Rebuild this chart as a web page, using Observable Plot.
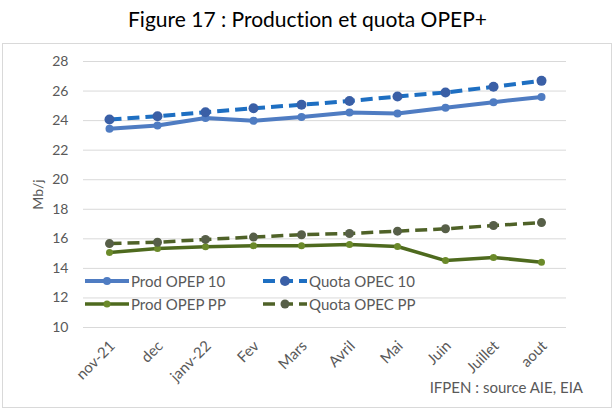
<!DOCTYPE html>
<html><head><meta charset="utf-8">
<script src="https://cdn.jsdelivr.net/npm/d3@7"></script>
<script src="https://cdn.jsdelivr.net/npm/@observablehq/plot@0.6"></script>
<style>
body{margin:0;background:#fff;font-family:Lato,"Open Sans",sans-serif;font-variant-ligatures:none;}
#wrap{position:relative;width:615px;height:412px;overflow:hidden;background:#fff;}
#title{position:absolute;top:6px;left:0;width:615px;text-align:center;font-size:21px;color:#000;line-height:26px;}
#frame{position:absolute;left:2px;top:43px;width:610px;height:365px;border:1px solid #d9d9d9;box-sizing:border-box;}
#chart{position:absolute;left:0;top:43px;}
#chart svg text{font-variant-ligatures:none;}
.leg{position:absolute;display:flex;align-items:center;font-size:15px;color:#595959;white-space:nowrap;}
.leg svg{margin-right:2px;}
#caption{position:absolute;right:32px;top:378px;font-size:15px;color:#595959;}
</style></head>
<body>
<div id="wrap">
  <div id="title">Figure 17 : Production et quota OPEP+</div>
  <div id="frame"></div>
  <div id="chart"></div>
  <div id="legend"></div>
  <div id="caption">IFPEN : source AIE, EIA</div>
</div>
<script>
const months = ["nov-21","dec","janv-22","Fev","Mars","Avril","Mai","Juin","Juillet","aout"];
const prodOpep10 = [23.45, 23.67, 24.17, 23.99, 24.25, 24.55, 24.48, 24.87, 25.25, 25.6];
const quotaOpec10 = [24.07, 24.3, 24.57, 24.84, 25.07, 25.33, 25.63, 25.9, 26.29, 26.69];
const prodOpepPP = [15.07, 15.35, 15.47, 15.54, 15.54, 15.62, 15.48, 14.53, 14.74, 14.42];
const quotaOpecPP = [15.68, 15.77, 15.96, 16.12, 16.28, 16.36, 16.52, 16.68, 16.9, 17.1];
const yTicks = [10, 12, 14, 16, 18, 20, 22, 24, 26, 28];
const seriesNames = ["Prod OPEP 10", "Quota OPEC 10", "Prod OPEP PP", "Quota OPEC PP"];

const styles = [
  {line: "#4f7cc2", dot: "#4f7cc2", width: 4, dash: null, r: 4},
  {line: "#1e6fc2", dot: "#3a5fa6", width: 4, dash: "12,6", r: 5},
  {line: "#4e6a1e", dot: "#6b8a2a", width: 3.5, dash: null, r: 3.5},
  {line: "#4f6228", dot: "#575f48", width: 3.5, dash: "12,6", r: 4.5}
];
const allValues = [prodOpep10, quotaOpec10, prodOpepPP, quotaOpecPP];
const tables = allValues.map(vals => months.map((m, i) => ({month: m, value: vals[i]})));

const marks = [
  Plot.gridY(yTicks, {stroke: "#d9d9d9", strokeOpacity: 1, strokeWidth: 1}),
  Plot.axisY({ticks: yTicks, tickSize: 0, tickPadding: 15, label: "Mb/j", labelAnchor: "center", labelOffset: 50, labelArrow: "none", fill: "#595959"}),
  Plot.axisX({tickSize: 0, tickRotate: -45, tickPadding: 10, dx: 3, dy: 6, fontSize: 15, label: null, fill: "#595959"})
];
tables.forEach((t, k) => {
  const s = styles[k];
  marks.push(Plot.line(t, {x: "month", y: "value", stroke: s.line, strokeWidth: s.width, strokeDasharray: s.dash, strokeLinecap: "butt"}));
  marks.push(Plot.dot(t, {x: "month", y: "value", r: s.r, fill: s.dot, stroke: null}));
});

const chart = Plot.plot({
  width: 615,
  height: 365,
  marginLeft: 83,
  marginRight: 49,
  marginTop: 18,
  marginBottom: 81,
  style: {fontFamily: "Lato, 'Open Sans', sans-serif", fontSize: "14px", color: "#595959", background: "transparent"},
  x: {type: "point", domain: months, padding: 0.5, label: null},
  y: {domain: [10, 28], label: "Mb/j"},
  marks
});
document.getElementById("chart").appendChild(chart);

// legend
const legendPos = [[85, 272], [263, 272], [85, 295], [263, 295]];
const leg = document.getElementById("legend");
seriesNames.forEach((name, k) => {
  const s = styles[k];
  const d = document.createElement("div");
  d.className = "leg";
  d.style.left = legendPos[k][0] + "px";
  d.style.top = legendPos[k][1] + "px";
  d.innerHTML = `<svg width="44" height="18"><line x1="0" x2="44" y1="9" y2="9" stroke="${s.line}" stroke-width="${s.width}" ${s.dash ? `stroke-dasharray="${s.dash}"` : ""}/><circle cx="22" cy="9" r="${s.r}" fill="${s.dot}"/></svg><span>${name}</span>`;
  leg.appendChild(d);
});
</script>
</body></html>
